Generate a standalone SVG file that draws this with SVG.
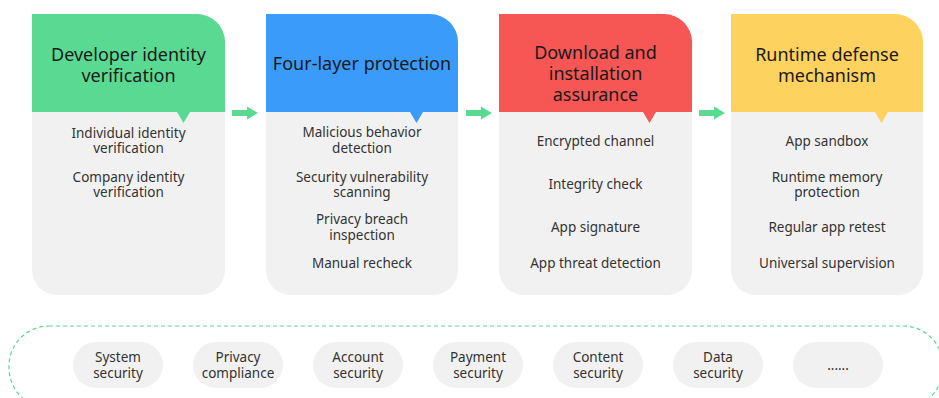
<svg xmlns="http://www.w3.org/2000/svg" width="939" height="398" viewBox="0 0 939 398">
<style>
.hd{font-family:"Noto Sans","Open Sans","Liberation Sans",sans-serif;font-size:18px;fill:#1a1a1a;text-anchor:middle}
.bd{font-family:"Noto Sans","Open Sans","Liberation Sans",sans-serif;font-size:13.5px;fill:#333333;text-anchor:middle}
.body{fill:#f1f1f1}
.pill{fill:#f1f1f1}
.arr{fill:#5ad993}
</style>
<rect width="939" height="398" fill="#ffffff"/>

<g id="card1">
<path class="body" d="M32,112 H225 V270 A25,25 0 0 1 200,295 H57 A25,25 0 0 1 32,270 Z"/>
<path fill="#5ad993" d="M32,14 H197 A28,28 0 0 1 225,42 V112 H32 Z M177,112 L190,112 L183.5,123 Z"/>
<text class="hd" x="128.5" y="61">Developer identity</text>
<text class="hd" x="128.5" y="82">verification</text>
<text class="bd" x="128.5" y="138">Individual identity</text>
<text class="bd" x="128.5" y="153">verification</text>
<text class="bd" x="128.5" y="182">Company identity</text>
<text class="bd" x="128.5" y="197">verification</text>
</g>

<g id="card2">
<path class="body" d="M266,112 H458 V270 A25,25 0 0 1 433,295 H291 A25,25 0 0 1 266,270 Z"/>
<path fill="#3a9bfb" d="M266,14 H430 A28,28 0 0 1 458,42 V112 H266 Z M410,112 L423,112 L416.5,123 Z"/>
<text class="hd" x="362" y="70">Four-layer protection</text>
<text class="bd" x="362" y="137">Malicious behavior</text>
<text class="bd" x="362" y="153">detection</text>
<text class="bd" x="362" y="182">Security vulnerability</text>
<text class="bd" x="362" y="197">scanning</text>
<text class="bd" x="362" y="224">Privacy breach</text>
<text class="bd" x="362" y="240">inspection</text>
<text class="bd" x="362" y="268">Manual recheck</text>
</g>

<g id="card3">
<path class="body" d="M499,112 H692 V270 A25,25 0 0 1 667,295 H524 A25,25 0 0 1 499,270 Z"/>
<path fill="#f65654" d="M499,14 H664 A28,28 0 0 1 692,42 V112 H499 Z M643,112 L656,112 L649.5,123 Z"/>
<text class="hd" x="595.5" y="59">Download and</text>
<text class="hd" x="595.5" y="80">installation</text>
<text class="hd" x="595.5" y="101">assurance</text>
<text class="bd" x="595.5" y="146">Encrypted channel</text>
<text class="bd" x="595.5" y="189">Integrity check</text>
<text class="bd" x="595.5" y="232">App signature</text>
<text class="bd" x="595.5" y="268">App threat detection</text>
</g>

<g id="card4">
<path class="body" d="M731,112 H923 V270 A25,25 0 0 1 898,295 H756 A25,25 0 0 1 731,270 Z"/>
<path fill="#fed25e" d="M731,14 H895 A28,28 0 0 1 923,42 V112 H731 Z M875,112 L888,112 L881.5,123 Z"/>
<text class="hd" x="827" y="61">Runtime defense</text>
<text class="hd" x="827" y="82">mechanism</text>
<text class="bd" x="827" y="146">App sandbox</text>
<text class="bd" x="827" y="182">Runtime memory</text>
<text class="bd" x="827" y="197">protection</text>
<text class="bd" x="827" y="232">Regular app retest</text>
<text class="bd" x="827" y="268">Universal supervision</text>
</g>

<g id="connectors">
<path class="arr" d="M232,110 H247 V106.5 L258,113 L247,119.5 V116 H232 Z"/>
<path class="arr" d="M466,110 H481 V106.5 L492,113 L481,119.5 V116 H466 Z"/>
<path class="arr" d="M699,110 H714 V106.5 L725,113 L714,119.5 V116 H699 Z"/>
</g>

<g id="foundation">
<rect x="9" y="326" width="934" height="82" rx="40" ry="40" fill="none" stroke="#5ad993" stroke-width="1.2" stroke-dasharray="4,3"/>
</g>

<g id="pill1"><rect class="pill" x="73" y="342" width="90" height="46" rx="23"/><text class="bd" x="118" y="362">System</text><text class="bd" x="118" y="378">security</text></g>
<g id="pill2"><rect class="pill" x="193" y="342" width="90" height="46" rx="23"/><text class="bd" x="238" y="362">Privacy</text><text class="bd" x="238" y="378">compliance</text></g>
<g id="pill3"><rect class="pill" x="313" y="342" width="90" height="46" rx="23"/><text class="bd" x="358" y="362">Account</text><text class="bd" x="358" y="378">security</text></g>
<g id="pill4"><rect class="pill" x="433" y="342" width="90" height="46" rx="23"/><text class="bd" x="478" y="362">Payment</text><text class="bd" x="478" y="378">security</text></g>
<g id="pill5"><rect class="pill" x="553" y="342" width="90" height="46" rx="23"/><text class="bd" x="598" y="362">Content</text><text class="bd" x="598" y="378">security</text></g>
<g id="pill6"><rect class="pill" x="673" y="342" width="90" height="46" rx="23"/><text class="bd" x="718" y="362">Data</text><text class="bd" x="718" y="378">security</text></g>
<g id="pill7"><rect class="pill" x="793" y="342" width="90" height="46" rx="23"/><text class="bd" x="838" y="370">......</text></g>
</svg>
